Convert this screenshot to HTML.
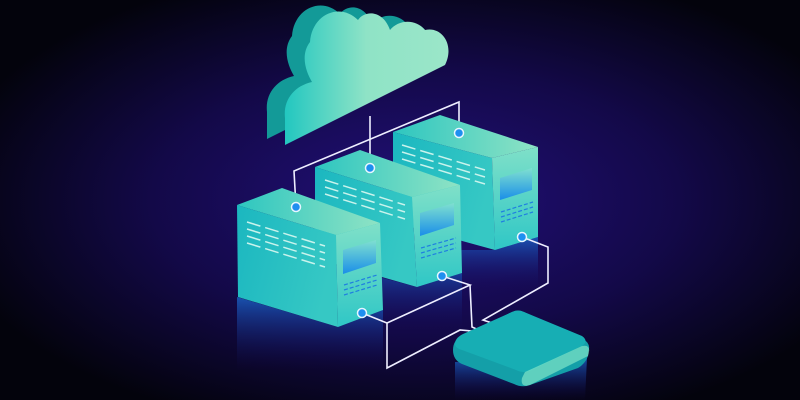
<!DOCTYPE html>
<html><head><style>html,body{margin:0;padding:0;background:#000}svg{display:block}</style></head><body>
<svg width="800" height="400" viewBox="0 0 800 400" xmlns="http://www.w3.org/2000/svg">
<defs>
<radialGradient id="bg" cx="0.52" cy="0.5" r="0.6">
<stop offset="0" stop-color="#22107a"/><stop offset="0.55" stop-color="#130948"/><stop offset="1" stop-color="#03030c"/></radialGradient>
<linearGradient id="top" x1="0" y1="0" x2="1" y2="0"><stop offset="0" stop-color="#2dc6c0"/><stop offset="1" stop-color="#8fe3c4"/></linearGradient>
<linearGradient id="front" x1="0" y1="0" x2="1" y2="0.3"><stop offset="0" stop-color="#1bb7c0"/><stop offset="1" stop-color="#36c8c4"/></linearGradient>
<linearGradient id="side" x1="0" y1="0" x2="0" y2="1"><stop offset="0" stop-color="#7fe0c8"/><stop offset="1" stop-color="#2fc7c6"/></linearGradient>
<linearGradient id="refl" x1="0" y1="0" x2="0" y2="1"><stop offset="0" stop-color="#1a6ad0" stop-opacity="0.75"/><stop offset="1" stop-color="#140a60" stop-opacity="0"/></linearGradient>
<linearGradient id="cl" x1="0" y1="0" x2="1" y2="0"><stop offset="0" stop-color="#22c7c0"/><stop offset="0.5" stop-color="#8fe3c6"/><stop offset="1" stop-color="#9be6c9"/></linearGradient>
<linearGradient id="scr" x1="0" y1="0" x2="0" y2="1"><stop offset="0" stop-color="#7fe0d0"/><stop offset="1" stop-color="#1a8ee8"/></linearGradient>
</defs>
<rect width="800" height="400" fill="url(#bg)"/>

<!-- cloud -->
<g transform="translate(-18,-6)" fill="#139a98">
<path d="M285,145 L445,65 C455,45 442,26 425,30 C415,18 398,20 390,30 C383,10 365,10 358,20 C340,2 312,14 310,42 C300,55 306,72 312,82 C294,86 283,100 285,118 Z"/>
</g>
<path d="M285,145 L445,65 C455,45 442,26 425,30 C415,18 398,20 390,30 C383,10 365,10 358,20 C340,2 312,14 310,42 C300,55 306,72 312,82 C294,86 283,100 285,118 Z" fill="url(#cl)"/>

<!-- connectors top -->
<g stroke="#eef" stroke-width="1.6" fill="none">
<polyline points="459,133 459,102 294,171 296,207"/>
<line x1="370" y1="116" x2="370" y2="168"/>
</g>

<!-- server 3 -->
<polygon points="393,250 495,250 538,237 538,290 393,290" fill="url(#refl)"/>
<polygon points="393,132 440,115 538,147 492,158" fill="url(#top)"/>
<polygon points="393,132 492,158 495,250 393,222" fill="url(#front)"/>
<polygon points="492,158 538,147 538,237 495,250" fill="url(#side)"/>
<polygon points="500,178 532,168 532,190 500,200" fill="url(#scr)"/>
<!-- server 2 -->
<polygon points="315,260 417,287 462,273 462,330 315,330" fill="url(#refl)"/>
<polygon points="315,167 360,150 460,185 412,197" fill="url(#top)"/>
<polygon points="315,167 412,197 417,287 315,258" fill="url(#front)"/>
<polygon points="412,197 460,185 462,273 417,287" fill="url(#side)"/>
<polygon points="420,213 454,203 454,225 420,236" fill="url(#scr)"/>
<!-- server 1 -->
<polygon points="237,297 338,327 383,310 383,370 237,370" fill="url(#refl)"/>
<polygon points="237,205 282,188 380,223 336,235" fill="url(#top)"/>
<polygon points="237,205 336,235 338,327 238,297" fill="url(#front)"/>
<polygon points="336,235 380,223 383,310 338,327" fill="url(#side)"/>
<polygon points="343,250 376,240 376,263 343,274" fill="url(#scr)"/>

<g stroke="#c9f3ec" stroke-width="1.5" stroke-dasharray="14 5">
<line x1="247" y1="222" x2="325" y2="246"/><line x1="247" y1="229" x2="325" y2="253"/><line x1="247" y1="236" x2="325" y2="260"/><line x1="247" y1="243" x2="325" y2="267"/>
<line x1="325" y1="180" x2="405" y2="205"/><line x1="325" y1="187" x2="405" y2="212"/><line x1="325" y1="194" x2="405" y2="219"/>
<line x1="402" y1="145" x2="485" y2="170"/><line x1="402" y1="152" x2="485" y2="177"/><line x1="402" y1="159" x2="485" y2="184"/>
</g>
<g stroke="#1f7fe0" stroke-width="1.2" stroke-dasharray="4 2">
<line x1="344" y1="285" x2="377" y2="275"/><line x1="344" y1="290" x2="377" y2="280"/><line x1="344" y1="295" x2="377" y2="285"/>
<line x1="421" y1="248" x2="456" y2="238"/><line x1="421" y1="253" x2="456" y2="243"/><line x1="421" y1="258" x2="456" y2="248"/>
<line x1="501" y1="212" x2="533" y2="202"/><line x1="501" y1="217" x2="533" y2="207"/><line x1="501" y1="222" x2="533" y2="212"/>
</g>

<g stroke="#eef" stroke-width="1.6" fill="none">
<polyline points="362,313 387,323 387,368 460,330 483,332"/>
<polyline points="387,323 470,285 442,276"/>
<polyline points="470,285 472,327 483,332"/>
<polyline points="522,237 548,247 548,283 483,320 492,323"/>
</g>

<!-- drive -->
<path d="M455,362 L455,400 L585,400 L587,358 Z" fill="url(#refl)"/>
<path d="M453,350 Q453,340 462,336 L512,312 Q518,309 524,312 L582,338 Q592,344 588,352 L588,356 Q585,364 578,368 L530,385 Q522,388 514,384 L462,364 Q453,360 453,350 Z" fill="#149fa8"/>
<path d="M455,344 Q455,338 463,334 L512,312 Q518,309 524,312 L582,336 Q589,341 582,346 L532,370 Q524,374 516,370 L462,350 Q455,348 455,344 Z" fill="#17aeb4"/>
<path d="M525,372 L582,346 Q592,344 588,356 L530,385 Q520,388 522,378 Z" fill="#7fe5c8" opacity="0.7"/>

<g fill="#1e8ff0" stroke="#e6f6ff" stroke-width="1.5">
<circle cx="459" cy="133" r="4.5"/><circle cx="370" cy="168" r="4.5"/><circle cx="296" cy="207" r="4.5"/>
<circle cx="522" cy="237" r="4.5"/><circle cx="442" cy="276" r="4.5"/><circle cx="362" cy="313" r="4.5"/>
</g>
</svg>
</body></html>
